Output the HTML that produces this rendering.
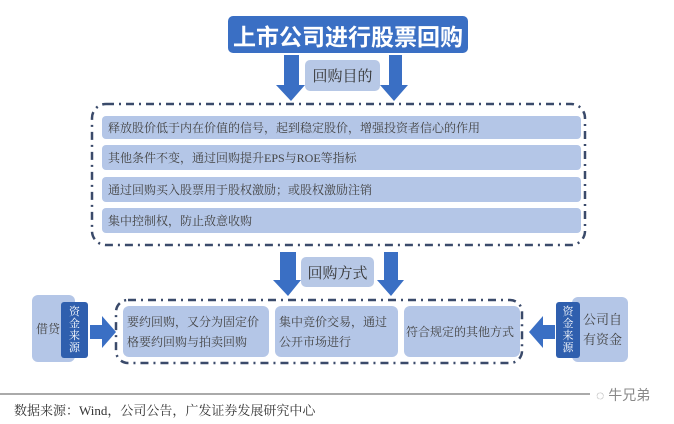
<!DOCTYPE html>
<html><head><meta charset="utf-8"><style>
body{margin:0;width:674px;height:424px;background:#fff;position:relative;overflow:hidden;font-family:"Liberation Serif","Noto Serif CJK SC",serif;}
.a{position:absolute;box-sizing:border-box;}
.row{position:absolute;left:102px;width:473px;background:#b4c6e7;border-radius:4px;font-size:12px;color:#444;padding-left:6px;display:flex;align-items:center;}
.lb{background:#b7c8e6;border-radius:5px;color:#333;font-size:15px;display:flex;align-items:center;justify-content:center;}
.bx{background:#b4c6e7;border-radius:6px;color:#444;font-size:12px;line-height:20px;padding:0 4px;display:flex;align-items:center;}
.dk{background:#2f5fae;border-radius:3px;color:#fff;font-size:11px;line-height:12px;display:flex;align-items:center;justify-content:center;text-align:center;}
</style></head><body>
<svg class="a" style="left:0;top:0" width="674" height="424">
<rect x="92" y="104" width="493" height="141" rx="14" fill="none" stroke="#3a4a6a" stroke-width="2.5" stroke-dasharray="8,5,2,5"/>
<rect x="116" y="300" width="406" height="63" rx="12" fill="none" stroke="#3a4a6a" stroke-width="2.5" stroke-dasharray="8,5,2,5"/>
<g fill="#3a6fc4">
<polygon points="284,55 299,55 299,85 305,85 291,101 276,85 284,85"/>
<polygon points="389,55 402,55 402,85 408,85 394,101 380,85 389,85"/>
<polygon points="280,252 296,252 296,280 301,280 288,296 273,280 280,280"/>
<polygon points="384,252 398,252 398,280 404,280 391,296 377,280 384,280"/>
<polygon points="90,325 102,325 102,316 116,332 102,348 102,339 90,339"/>
<polygon points="555,325 543,325 543,316 529,332 543,348 543,339 555,339"/>
</g>
<line x1="0" y1="394" x2="590" y2="394" stroke="#555" stroke-width="1"/>
</svg>
<div class="a" style="left:228px;top:16px;width:240px;height:37px;background:#3a6fc4;border-radius:5px;color:#fff;font-size:23px;font-weight:bold;display:flex;align-items:center;justify-content:center;font-family:'Liberation Sans','Noto Sans CJK SC',sans-serif;">上市公司进行股票回购</div>
<div class="a lb" style="left:305px;top:60px;width:75px;height:31px;">回购目的</div>
<div class="row" style="top:116px;height:23px;">释放股价低于内在价值的信号，起到稳定股价，增强投资者信心的作用</div>
<div class="row" style="top:145px;height:25px;">其他条件不变，通过回购提升EPS与ROE等指标</div>
<div class="row" style="top:177px;height:25px;">通过回购买入股票用于股权激励；或股权激励注销</div>
<div class="row" style="top:208px;height:25px;">集中控制权，防止敌意收购</div>
<div class="a lb" style="left:301px;top:257px;width:73px;height:30px;">回购方式</div>
<div class="a bx" style="left:123px;top:306px;width:146px;height:51px;">要约回购，又分为固定价格要约回购与拍卖回购</div>
<div class="a bx" style="left:275px;top:306px;width:123px;height:51px;">集中竞价交易，通过公开市场进行</div>
<div class="a bx" style="left:404px;top:306px;width:116px;height:51px;white-space:nowrap;padding:0 2px;">符合规定的其他方式</div>
<div class="a bx" style="left:32px;top:295px;width:43px;height:67px;justify-content:flex-start;padding-left:4px;font-size:12px;">借贷</div>
<div class="a dk" style="left:61px;top:302px;width:27px;height:56px;">资<br>金<br>来<br>源</div>
<div class="a bx" style="left:572px;top:297px;width:56px;height:65px;justify-content:flex-end;padding:0 5px 0 11px;font-size:13px;text-align:left;">公司自有资金</div>
<div class="a dk" style="left:556px;top:302px;width:24px;height:56px;">资<br>金<br>来<br>源</div>
<div class="a" style="left:14px;top:400px;font-size:13px;color:#333;">数据来源：Wind，公司公告，广发证券发展研究中心</div>
<div class="a" style="left:596px;top:385px;font-size:14px;color:#888;font-family:'Liberation Sans','Noto Sans CJK SC',sans-serif;">◌ 牛兄弟</div>
</body></html>
